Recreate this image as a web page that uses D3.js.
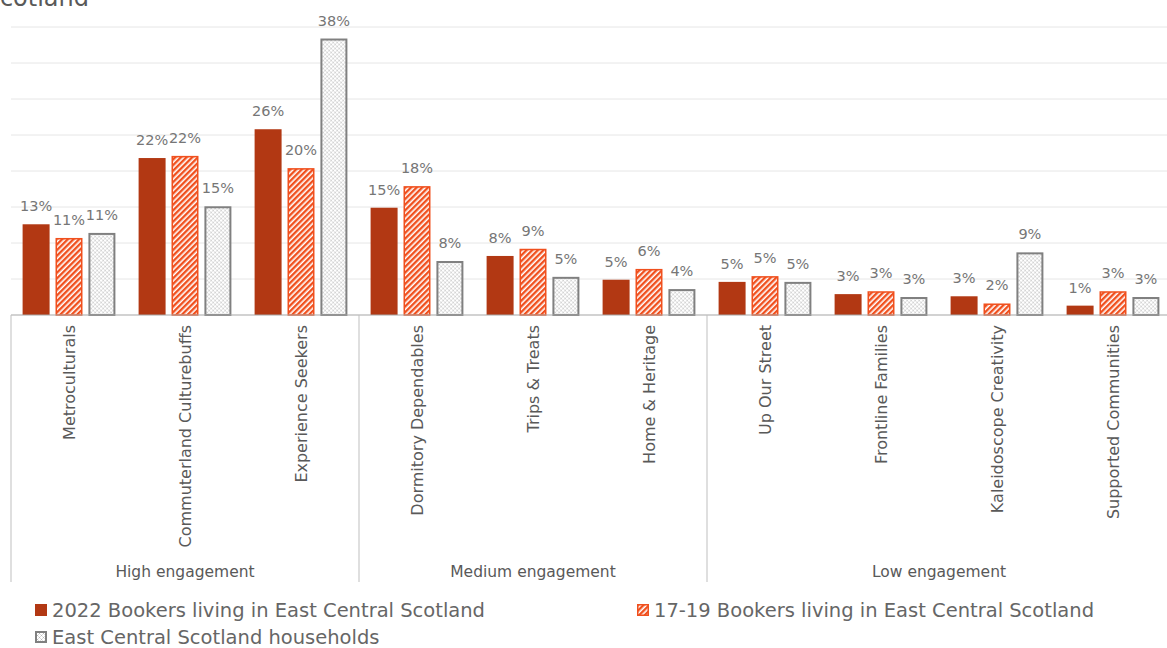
<!DOCTYPE html>
<html>
<head>
<meta charset="utf-8">
<script src="https://cdn.jsdelivr.net/npm/d3@7"></script>
<style>
  html, body { margin: 0; padding: 0; background: #fff; }
  svg { display: block; font-family: "DejaVu Sans", sans-serif; }
</style>
</head>
<body>
<svg id="chart" width="1167" height="648"></svg>
<script>
// Audience segments, grouped by engagement level
const categories = [
  "Metroculturals", "Commuterland Culturebuffs", "Experience Seekers",
  "Dormitory Dependables", "Trips & Treats", "Home & Heritage",
  "Up Our Street", "Frontline Families", "Kaleidoscope Creativity", "Supported Communities"
];
const groups = ["High engagement", "Medium engagement", "Low engagement"];
const groupSizes = [3, 3, 4];

const seriesNames = [
  "2022 Bookers living in East Central Scotland",
  "17-19 Bookers living in East Central Scotland",
  "East Central Scotland households"
];

// Share of each population (%)
const bookers2022 = [12.6, 21.8, 25.8, 14.9, 8.2, 4.9, 4.6, 2.9, 2.6, 1.3];
const bookers1719 = [10.7, 22.1, 20.4, 17.9, 9.2, 6.4, 5.4, 3.3, 1.6, 3.3];
const households  = [11.4, 15.1, 38.4, 7.5, 5.3, 3.6, 4.6, 2.5, 8.7, 2.5];

const yTicks = [0, 5, 10, 15, 20, 25, 30, 35, 40];

const svg = d3.select("#chart");
const W = 1167, H = 648;

const x0 = d3.scaleBand().domain(categories).range([11, 1171]).paddingInner(0.2).paddingOuter(0.1);
const x1 = d3.scaleBand().domain(d3.range(3)).range([0, x0.bandwidth()]).paddingInner(0.18);
const y = d3.scaleLinear().domain([0, 40]).range([315, 27]);

// Fill patterns
const defs = svg.append("defs");
const hatch = defs.append("pattern")
  .attr("id", "hatch").attr("patternUnits", "userSpaceOnUse")
  .attr("width", 4).attr("height", 4)
  .attr("patternTransform", "rotate(45)");
hatch.append("rect").attr("width", 4).attr("height", 4).attr("fill", "#fff");
hatch.append("rect").attr("width", 2.4).attr("height", 4).attr("fill", "#F0501E");

const dots = defs.append("pattern")
  .attr("id", "dots").attr("patternUnits", "userSpaceOnUse")
  .attr("width", 4).attr("height", 4);
dots.append("rect").attr("width", 4).attr("height", 4).attr("fill", "#fff");
dots.append("rect").attr("x", 0).attr("y", 0).attr("width", 1).attr("height", 1).attr("fill", "#B8B8B8");
dots.append("rect").attr("x", 2).attr("y", 2).attr("width", 1).attr("height", 1).attr("fill", "#B8B8B8");
dots.append("rect").attr("x", 1).attr("y", 1).attr("width", 1).attr("height", 1).attr("fill", "#DDDDDD");
dots.append("rect").attr("x", 3).attr("y", 3).attr("width", 1).attr("height", 1).attr("fill", "#DDDDDD");
dots.append("rect").attr("x", 3).attr("y", 1).attr("width", 1).attr("height", 1).attr("fill", "#DDDDDD");
dots.append("rect").attr("x", 1).attr("y", 3).attr("width", 1).attr("height", 1).attr("fill", "#DDDDDD");

const styles = [
  { fill: "#B23813", stroke: "none", sw: 0 },
  { fill: "url(#hatch)", stroke: "#F0501E", sw: 1.5 },
  { fill: "url(#dots)", stroke: "#808080", sw: 2 }
];

// Title line (its upper part falls above the page)
svg.append("text")
  .attr("x", 89).attr("y", 6)
  .attr("text-anchor", "end")
  .attr("font-size", 24).attr("fill", "#595959")
  .text("Scotland");

// Horizontal gridlines
svg.append("g").selectAll("line")
  .data(yTicks.filter(d => d > 0))
  .join("line")
  .attr("x1", 11).attr("x2", W)
  .attr("y1", d => y(d)).attr("y2", d => y(d))
  .attr("stroke", "#E6E6E6").attr("stroke-width", 1);

// Bars
const data = categories.map((c, i) => ({ cat: c, vals: [bookers2022[i], bookers1719[i], households[i]] }));
const gCat = svg.append("g").selectAll("g")
  .data(data).join("g")
  .attr("transform", d => `translate(${x0(d.cat)},0)`);

gCat.selectAll("rect")
  .data(d => d.vals.map((v, k) => ({ v, k })))
  .join("rect")
  .attr("x", d => x1(d.k) + (styles[d.k].sw / 2))
  .attr("width", d => x1.bandwidth() - styles[d.k].sw)
  .attr("y", d => y(d.v) + styles[d.k].sw / 2)
  .attr("height", d => y(0) - y(d.v) - styles[d.k].sw / 2)
  .attr("fill", d => styles[d.k].fill)
  .attr("stroke", d => styles[d.k].stroke)
  .attr("stroke-width", d => styles[d.k].sw);

// Value labels
gCat.selectAll("text")
  .data(d => d.vals.map((v, k) => ({ v, k })))
  .join("text")
  .attr("x", d => x1(d.k) + x1.bandwidth() / 2)
  .attr("y", d => y(d.v) - 13)
  .attr("text-anchor", "middle")
  .attr("font-size", 14.5).attr("fill", "#767676")
  .text(d => Math.round(d.v) + "%");

// Category axis baseline
svg.append("line")
  .attr("x1", 11).attr("x2", W)
  .attr("y1", y(0)).attr("y2", y(0))
  .attr("stroke", "#A6A6A6").attr("stroke-width", 1.2);

// Group separators
let starts = [0];
groupSizes.forEach((s, i) => starts.push(starts[i] + s));
const step = x0.step();
const sepX = starts.map(s => x0(categories[0]) - x0.paddingOuter() * step + s * step);
svg.append("g").selectAll("line")
  .data(sepX).join("line")
  .attr("x1", d => d).attr("x2", d => d)
  .attr("y1", y(0)).attr("y2", 582)
  .attr("stroke", "#BFBFBF").attr("stroke-width", 1);

// Rotated category labels
svg.append("g").selectAll("text")
  .data(categories).join("text")
  .attr("transform", d => `translate(${x0(d) + x0.bandwidth() / 2 + 5.5},325) rotate(-90)`)
  .attr("text-anchor", "end")
  .attr("font-size", 16).attr("fill", "#595959")
  .text(d => d);

// Group labels
svg.append("g").selectAll("text")
  .data(groups).join("text")
  .attr("x", (d, i) => (sepX[i] + sepX[i + 1]) / 2)
  .attr("y", 577)
  .attr("text-anchor", "middle")
  .attr("font-size", 15.5).attr("fill", "#595959")
  .text(d => d);

// Legend
const legendPos = [[35, 610], [637, 610], [35, 637]];
const lg = svg.append("g").selectAll("g")
  .data(seriesNames).join("g")
  .attr("transform", (d, i) => `translate(${legendPos[i][0]},${legendPos[i][1]})`);
lg.append("rect")
  .attr("x", (d, i) => styles[i].sw / 2).attr("y", (d, i) => -6 + styles[i].sw / 2)
  .attr("width", (d, i) => 12 - styles[i].sw).attr("height", (d, i) => 12 - styles[i].sw)
  .attr("fill", (d, i) => styles[i].fill)
  .attr("stroke", (d, i) => styles[i].stroke)
  .attr("stroke-width", (d, i) => styles[i].sw);
lg.append("text")
  .attr("x", 17).attr("y", 7)
  .attr("font-size", 19.5).attr("fill", "#666666")
  .text(d => d);
</script>
</body>
</html>
